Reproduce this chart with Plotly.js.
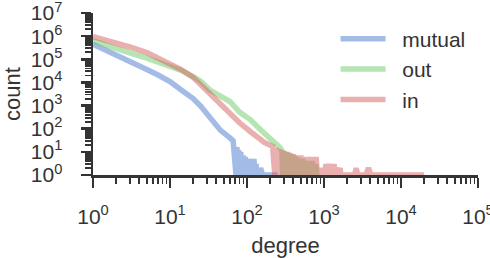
<!DOCTYPE html>
<html>
<head>
<meta charset="utf-8">
<script src="https://cdn.plot.ly/plotly-3.0.1.min.js"></script>
<style>html,body{margin:0;padding:0;background:#fff;}#chart{width:490px;height:258px;}</style>
</head>
<body>
<div id="chart"></div>
<script>
// Degree distributions (degree, count)
const mutualDegree = [1, 2, 3, 5, 7, 10, 14, 20, 25, 33, 45, 60, 66,
  72, 74, 76, 78, 80, 83, 86, 89, 92, 95, 98, 101, 104, 108, 111, 115, 119, 123, 127, 131, 135, 140, 145, 150, 160, 250];
const mutualCount = [450000, 160000, 89000, 36000, 21000, 11000, 4700, 2000, 960, 300, 87, 40, 30,
  1, 16, 1, 12, 1, 10, 1, 7, 1, 6, 1, 5, 1, 4, 1, 5, 1, 5, 1, 3, 1, 2, 1, 2, 1, 1];

const outDegree = [1, 2, 3, 5, 7, 10, 14, 20, 25, 33, 45, 60, 80, 110, 150, 200, 270, 285,
  290, 300, 310, 320, 330, 345, 360, 375, 390, 405, 420, 440, 460, 480, 500, 525, 550, 575, 600, 630, 660, 700, 740, 780, 810];
const outCount = [630000, 320000, 190000, 112000, 76000, 48000, 33000, 17800, 11200, 4700, 2800, 1500, 525, 250, 90, 40, 15, 11,
  1, 11, 1, 10, 1, 9, 1, 8, 1, 7, 1, 6, 1, 5, 1, 5, 1, 4, 1, 4, 1, 4, 1, 3, 1];

const inDegree = [1, 2, 3, 5, 7, 10, 14, 20, 25, 33, 45, 60, 80, 110, 150, 157, 170, 185, 200, 215,
  230, 240, 250, 260, 270, 280, 290, 300, 315, 330, 345, 360, 380, 400, 420, 445, 470, 500, 530, 560, 590, 620, 660, 700, 740, 790,
  820, 850, 880, 920, 960, 1000, 1030, 1060, 1100, 1150, 1200, 1250, 1300, 1350, 1400, 1450, 1500, 1560, 1620, 1660,
  2500, 2620, 2750, 3500, 3780, 4080, 20000];
const inCount = [950000, 525000, 340000, 195000, 117000, 63000, 36000, 16600, 8000, 3200, 1260, 450, 180, 76, 32, 28, 25, 22, 20, 17,
  1, 15, 1, 13, 1, 12, 1, 11, 1, 10, 1, 9, 1, 8, 1, 7, 1, 7, 1, 6, 1, 6, 1, 6, 1, 6,
  1, 2, 1, 2, 1, 2, 1, 3, 1, 3, 1, 3, 1, 3, 1, 2, 1, 2, 2, 1,
  1, 2, 1, 1, 2, 1, 1];

const seriesNames = ['mutual', 'out', 'in'];
const seriesColors = ['rgba(72,120,207,0.5)', 'rgba(106,204,101,0.5)', 'rgba(214,95,95,0.5)'];

const xTickVals = [1, 10, 100, 1000, 10000, 100000];
const xTickText = ['10<sup>0</sup>', '10<sup>1</sup>', '10<sup>2</sup>', '10<sup>3</sup>', '10<sup>4</sup>', '10<sup>5</sup>'];
const yTickVals = [1, 10, 100, 1000, 10000, 100000, 1000000, 10000000];
const yTickText = ['10<sup>0</sup>', '10<sup>1</sup>', '10<sup>2</sup>', '10<sup>3</sup>', '10<sup>4</sup>', '10<sup>5</sup>', '10<sup>6</sup>', '10<sup>7</sup>'];

const xs = [mutualDegree, outDegree, inDegree];
const ys = [mutualCount, outCount, inCount];

const traces = seriesNames.map((n, i) => ({
  type: 'scatter', mode: 'lines', name: '\u00a0\u00a0' + n,
  x: xs[i], y: ys[i],
  line: {color: seriesColors[i], width: 5.5},
  hoverinfo: 'skip'
}));

const FONT = '"Liberation Sans", Arial, sans-serif';
const INK = '#333333';

const axisCommon = {
  type: 'log', showgrid: false, zeroline: false,
  showline: true, linecolor: INK, linewidth: 2.5, mirror: false,
  ticks: 'outside', ticklen: 10, tickwidth: 2.5, tickcolor: INK,
  minor: {ticks: 'outside', ticklen: 6, tickwidth: 1.8, tickcolor: INK, dtick: 'D1', showgrid: false},
  tickfont: {family: FONT, size: 21, color: INK},
  ticklabeloverflow: 'allow',
  automargin: false, fixedrange: true
};

const layout = {
  width: 490, height: 258,
  margin: {l: 93, r: 12, t: 13, b: 83},
  paper_bgcolor: '#fff', plot_bgcolor: '#fff',
  font: {family: FONT, color: INK},
  showlegend: true,
  legend: {x: 0.63, y: 0.965, xanchor: 'left', yanchor: 'top', bgcolor: 'rgba(0,0,0,0)',
           font: {family: FONT, size: 21, color: INK}, itemwidth: 45, tracegroupgap: 0},
  xaxis: Object.assign({}, axisCommon, {
    range: [0, 5.0004], tickmode: 'array', tickvals: xTickVals, ticktext: xTickText,
    ticklabelstandoff: 11,
    title: {text: 'degree', font: {family: FONT, size: 22, color: INK}, standoff: 17}
  }),
  yaxis: Object.assign({}, axisCommon, {
    range: [0, 7.0004], tickmode: 'array', tickvals: yTickVals, ticktext: yTickText,
    ticklabelstandoff: 14,
    title: {text: 'count', font: {family: FONT, size: 22, color: INK}, standoff: 13}
  })
};

Plotly.newPlot('chart', traces, layout, {staticPlot: true, displayModeBar: false});
</script>
</body>
</html>
